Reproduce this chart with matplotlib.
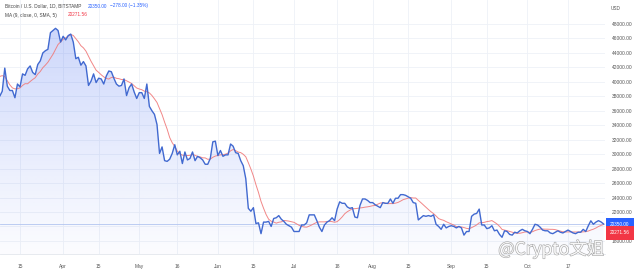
import numpy as np
import pandas as pd
import matplotlib
matplotlib.use("Agg")
import matplotlib.pyplot as plt
import matplotlib.dates as mdates
import matplotlib.patheffects as pe

# ---- data: daily closes (USD), 2022-02-27 .. 2022-10-31 ----
feb_tail = [37700, 43200]
mar = [44400, 44000, 42500, 39100, 39400, 38400, 38000, 38700, 41900, 39400,
       38800, 38800, 37800, 39700, 39300, 41100, 40900, 41800, 42200, 41300,
       41000, 42400, 42900, 44000, 44300, 44500, 46800, 47100, 47400, 47100, 45500]
apr = [46300, 45800, 46400, 46600, 45500, 43200, 43400, 42300, 42800, 42200,
       39500, 40100, 41100, 39900, 40500, 40400, 39700, 40800, 41500, 41400,
       40500, 39700, 39400, 39500, 40400, 38100, 39200, 39700, 38600, 37700]
may = [38500, 38500, 37700, 39700, 36600, 36000, 35500, 34100, 30100, 31000,
       29100, 29000, 29300, 30100, 31300, 29900, 30400, 28700, 30300, 29200,
       29400, 30300, 29100, 29700, 29500, 29200, 28600, 28600, 29400, 31700, 31800]
jun = [29800, 30500, 29700, 29900, 29900, 31400, 31100, 30200, 30100, 29100,
       28400, 26600, 22500, 22100, 22600, 20400, 20500, 19000, 20600, 20600,
       20700, 20000, 21100, 21200, 21500, 21000, 20700, 20300, 20100, 19900]
jul = [19300, 19300, 19300, 20200, 20200, 20500, 21600, 21600, 21600, 20800,
       19900, 19300, 20200, 20600, 20800, 21200, 20800, 22400, 23400, 23200,
       23200, 22700, 22500, 22600, 21300, 21200, 22900, 23800, 23800, 23600, 23300]
aug = [23300, 23000, 22800, 22600, 23300, 23200, 23200, 23800, 23200, 23900,
       23900, 24400, 24400, 24300, 24100, 23900, 23300, 23200, 20900, 21200,
       21500, 21400, 21500, 21400, 21600, 20300, 20000, 19600, 20300, 19800, 20000]
sep = [20100, 20000, 19800, 20000, 19800, 18800, 19300, 19300, 21400, 21700,
       21800, 22400, 20200, 20200, 19700, 19800, 20100, 19400, 19500, 18900,
       18500, 19400, 19300, 18900, 18800, 19200, 19100, 19400, 19600, 19400]
oct_ = [19300, 19000, 19600, 20300, 20200, 19900, 19500, 19400, 19400, 19100,
        19000, 19200, 19400, 19200, 19100, 19300, 19500, 19300, 19100, 19000,
        19200, 19200, 19596, 19300, 20090, 20780, 20300, 20600, 20800, 20628, 20350]

tick_dates = ["2022-03-15", "2022-04-01", "2022-04-15", "2022-05-01", "2022-05-16",
              "2022-06-01", "2022-06-15", "2022-07-01", "2022-07-18", "2022-08-01",
              "2022-08-15", "2022-09-01", "2022-09-15", "2022-10-01", "2022-10-17"]
tick_labels = ["15", "Apr", "15", "May", "16", "Jun", "15", "Jul", "18", "Aug",
               "15", "Sep", "15", "Oct", "17"]
y_ticks = list(range(18000, 50000, 2000))

last_close = 20350.00
change = -278.00
change_pct = -1.35
ma_len = 9

close = pd.Series(feb_tail + mar + apr + may + jun + jul + aug + sep + oct_,
                  index=pd.date_range("2022-02-27", "2022-10-31", freq="D"))
ma = close.rolling(ma_len).mean()
ma_last = ma.iloc[-1]

# ---- figure ----
W, H = 640, 274
fig = plt.figure(figsize=(W / 100, H / 100), dpi=100)
fig.patch.set_facecolor("white")
ax = fig.add_axes([0, 20 / H, 605 / W, 254 / H])
ax.set_facecolor("white")

x = mdates.date2num(close.index.to_pydatetime())
ref = mdates.date2num(pd.Timestamp("2022-03-15").to_pydatetime())
ppd = 2.537
x0 = ref - 20 / ppd
x1 = ref + (605 - 20) / ppd
ymin, ymax = 16188, 51319
ax.set_xlim(x0, x1)
ax.set_ylim(ymin, ymax)

# gradient area fill under the price line
poly = ax.fill_between(x, close.values, ymin, color="none", lw=0)
grad = np.linspace(0, 1, 256)
rgba = np.zeros((256, 1, 4))
rgba[:, 0, 0] = 60 / 255
rgba[:, 0, 1] = 100 / 255
rgba[:, 0, 2] = 240 / 255
rgba[:, 0, 3] = 0.02 + 0.24 * grad ** 1.1
img = ax.imshow(rgba, extent=[x0, x1, ymin, 47500], origin="lower",
                aspect="auto", zorder=1, interpolation="bilinear")
img.set_clip_path(poly.get_paths()[0], transform=ax.transData)

ax.plot(x, ma.values, color="#f07a7a", lw=0.7, zorder=3, alpha=0.9)
ax.plot(x, close.values, color="#4169d0", lw=1.0, zorder=4)
ax.axhline(last_close, color="#b3c5f0", lw=0.6, zorder=2)

# grid & ticks
ax.set_xticks([mdates.date2num(pd.Timestamp(d).to_pydatetime()) for d in tick_dates])
ax.set_xticklabels(tick_labels)
ax.set_yticks(y_ticks)
ax.set_yticklabels(["" if v == 20000 else f"{v:.2f}" for v in y_ticks])
ax.yaxis.tick_right()
ax.tick_params(axis="both", length=0, labelsize=3.5, colors="#555555")
ax.tick_params(axis="y", pad=5)
ax.tick_params(axis="x", pad=7)
for lab in ax.get_xticklabels() + ax.get_yticklabels():
    lab.set_family("Liberation Sans")
ax.grid(True, color="#eef1f7", lw=0.6, zorder=0)
ax.set_axisbelow(True)
for s in ["top", "left", "right"]:
    ax.spines[s].set_visible(False)
ax.spines["bottom"].set_color("#e3e6ec")
ax.spines["bottom"].set_linewidth(0.6)


def px(xp, yp):
    return xp / W, 1 - yp / H


fnt = dict(family="Liberation Sans", fontsize=3.4, va="center", ha="left")
fig.text(*px(5, 6), "Bitcoin / U.S. Dollar, 1D, BITSTAMP", color="#444444", **fnt)
fig.text(*px(88, 6), f"{last_close:.2f}", color="#2962ff", **fnt)
fig.text(*px(110, 6), f"\u2212{abs(change):.2f} (\u2212{abs(change_pct):.2f}%)", color="#2962ff", **fnt)
fig.text(*px(5, 15), f"MA ({ma_len}, close, 0, SMA, 5)", color="#444444", **fnt)
fig.text(*px(68, 15), f"{ma_last:.2f}", color="#f23645", **fnt)
fig.text(*px(611, 8), "USD", color="#555555", **fnt)

# price label boxes on the right scale
fig.text(*px(610, 225), f"{last_close:.2f}", color="white", **fnt,
         bbox=dict(boxstyle="square,pad=0.9", fc="#2962ff", ec="none"))
fig.text(*px(610, 233), f"{ma_last:.2f}", color="white", **fnt,
         bbox=dict(boxstyle="square,pad=0.9", fc="#f23645", ec="none"))

# watermark
fig.text(*px(604, 249), "@Crypto文姐", fontsize=12.5, va="center", ha="right",
         family=["Noto Sans CJK SC", "DejaVu Sans"], color="white", alpha=0.9,
         path_effects=[pe.withStroke(linewidth=0.8, foreground="#9a9a9a")])

fig.savefig("out.png", dpi=100)
